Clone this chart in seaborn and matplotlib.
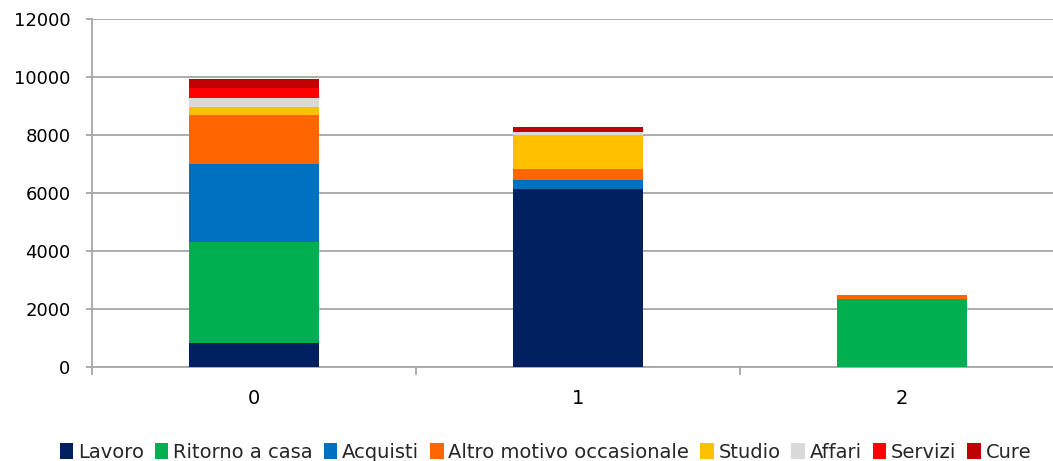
import numpy as np
import pandas as pd
import matplotlib
matplotlib.use("Agg")
import matplotlib.pyplot as plt
import seaborn as sns
from matplotlib.patches import Patch
from matplotlib.ticker import FixedLocator

# Categories on the x axis
categories = ["0", "1", "2"]

# Trip purposes (stacked bottom to top) and their values per category
lavoro = [830, 6150, 0]
ritorno_a_casa = [3480, 0, 2330]
acquisti = [2700, 310, 0]
altro_motivo = [1690, 360, 140]
studio = [265, 1180, 0]
affari = [320, 90, 0]
servizi = [345, 0, 0]
cure = [300, 195, 0]

series_names = ["Lavoro", "Ritorno a casa", "Acquisti", "Altro motivo occasionale",
                "Studio", "Affari", "Servizi", "Cure"]
series_values = [lavoro, ritorno_a_casa, acquisti, altro_motivo, studio, affari, servizi, cure]
series_colors = ["#002060", "#00B050", "#0070C0", "#FF6600",
                 "#FFC000", "#D9D9D9", "#FF0000", "#C00000"]

y_ticks = [0, 2000, 4000, 6000, 8000, 10000, 12000]

sns.set_theme(style="white")
plt.rcParams["font.family"] = ["DejaVu Sans"]

fig = plt.figure(figsize=(10.53, 4.61), dpi=100)
ax = fig.add_axes([0.0874, 0.2039, 0.9231, 0.7549])

# Stacked bars: draw cumulative totals from the top segment down
cumulative = np.cumsum(np.array(series_values, dtype=float), axis=0)
for name, color, cum in reversed(list(zip(series_names, series_colors, cumulative))):
    df = pd.DataFrame({"cat": categories, "val": cum})
    sns.barplot(data=df, x="cat", y="val", color=color, width=0.4,
                saturation=1, linewidth=0, ax=ax, zorder=3)

grid_color = "#A6A6A6"
ax.set_ylim(0, 12000)
ax.set_xlim(-0.5, 2.5)
ax.set_yticks(y_ticks)
ax.set_yticklabels([str(t) for t in y_ticks])
ax.yaxis.grid(True, color=grid_color, linewidth=1.3, zorder=0)
ax.xaxis.grid(False)
ax.set_axisbelow(True)
ax.set_xlabel("")
ax.set_ylabel("")

for side in ["top", "right"]:
    ax.spines[side].set_visible(False)
for side in ["left", "bottom"]:
    ax.spines[side].set_color(grid_color)
    ax.spines[side].set_linewidth(1.3)

ax.tick_params(axis="y", which="major", length=4.5, width=1.3, color=grid_color,
               pad=11, labelsize=13, labelcolor="#000000", left=True)
ax.tick_params(axis="x", which="major", length=0, pad=16, labelsize=14,
               labelcolor="#000000")
ax.xaxis.set_minor_locator(FixedLocator([-0.5, 0.5, 1.5, 2.5]))
ax.tick_params(axis="x", which="minor", length=6, width=1.3, color=grid_color,
               bottom=True)

handles = [Patch(facecolor=c, edgecolor="none", label=n)
           for n, c in zip(series_names, series_colors)]
fig.legend(handles=handles, loc="lower center", bbox_to_anchor=(0.518, -0.04),
           ncol=8, frameon=False, fontsize=14, handlelength=0.7, handleheight=0.85,
           handletextpad=0.25, columnspacing=0.55)

fig.savefig("out.png", dpi=100)
